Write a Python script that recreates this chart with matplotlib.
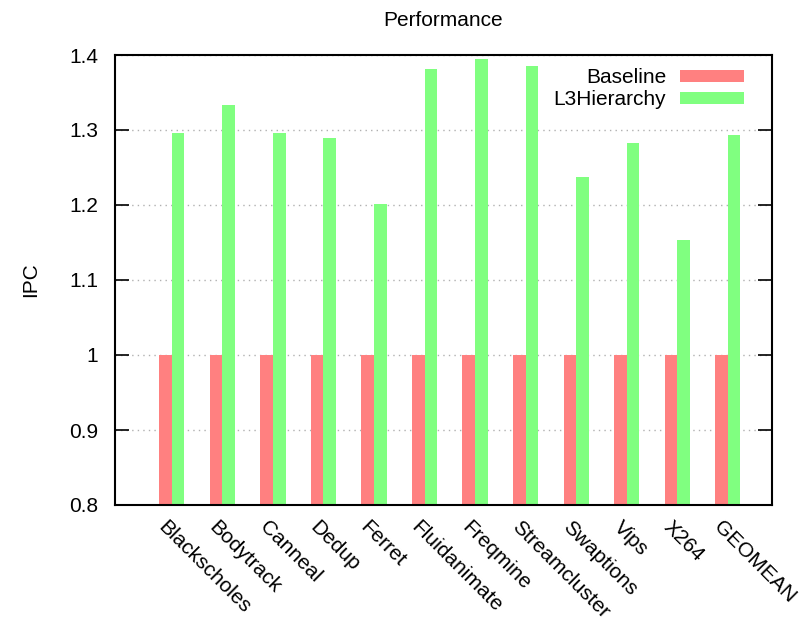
import matplotlib
matplotlib.use("Agg")
import matplotlib.pyplot as plt
import numpy as np

plt.rcParams['font.family'] = ['Liberation Sans', 'DejaVu Sans']

categories = ["Blackscholes", "Bodytrack", "Canneal", "Dedup", "Ferret",
              "Fluidanimate", "Freqmine", "Streamcluster", "Swaptions",
              "Vips", "X264", "GEOMEAN"]
baseline = [1.0] * 12
l3hierarchy = [1.296, 1.333, 1.296, 1.289, 1.201, 1.381, 1.395, 1.385,
               1.237, 1.283, 1.153, 1.293]
yticks = [0.8, 0.9, 1.0, 1.1, 1.2, 1.3, 1.4]
yticklabels = ["0.8", "0.9", "1", "1.1", "1.2", "1.3", "1.4"]

FS = 15
fig = plt.figure(figsize=(8.05, 6.2), dpi=100)
ax = fig.add_axes([115/805, 1 - 505/620, (772-115)/805, (505-55)/620])

x = np.arange(len(categories))
w = 0.25
ax.bar(x, baseline, width=w, color="#ff8080", label="Baseline", zorder=2)
ax.bar(x + w, l3hierarchy, width=w, color="#80ff80", label="L3Hierarchy", zorder=2)

ax.set_xlim(-1, 12)
ax.set_ylim(0.8, 1.4)
ax.set_yticks(yticks)
ax.set_yticklabels(yticklabels, fontsize=FS)
ax.set_xticks(x + 0.05)
ax.set_xticklabels(categories, rotation=-45, ha="left", va="top",
                   rotation_mode="anchor", fontsize=FS)
ax.tick_params(axis="x", length=0, pad=9)
ax.tick_params(axis="y", direction="in", length=10, width=1.2, right=True, pad=12)
ax.yaxis.grid(True, linestyle=(0, (1, 3)), color="#b0b0b0", linewidth=1)
ax.set_axisbelow(True)
for s in ax.spines.values():
    s.set_linewidth(1.5)

ax.set_ylabel("IPC", fontsize=FS, labelpad=21)
fig.text(443/805, 1 - 21/620, "Performance", ha="center", va="center", fontsize=FS)

leg = ax.legend(loc="upper right", frameon=False, fontsize=FS, markerfirst=False,
                handlelength=3.07, handleheight=0.55, handletextpad=0.67,
                labelspacing=0.15, borderaxespad=0.3, bbox_to_anchor=(0.98, 1.003))
for t in leg.get_texts():
    t.set_ha("right")

fig.savefig("out.png", dpi=100)
